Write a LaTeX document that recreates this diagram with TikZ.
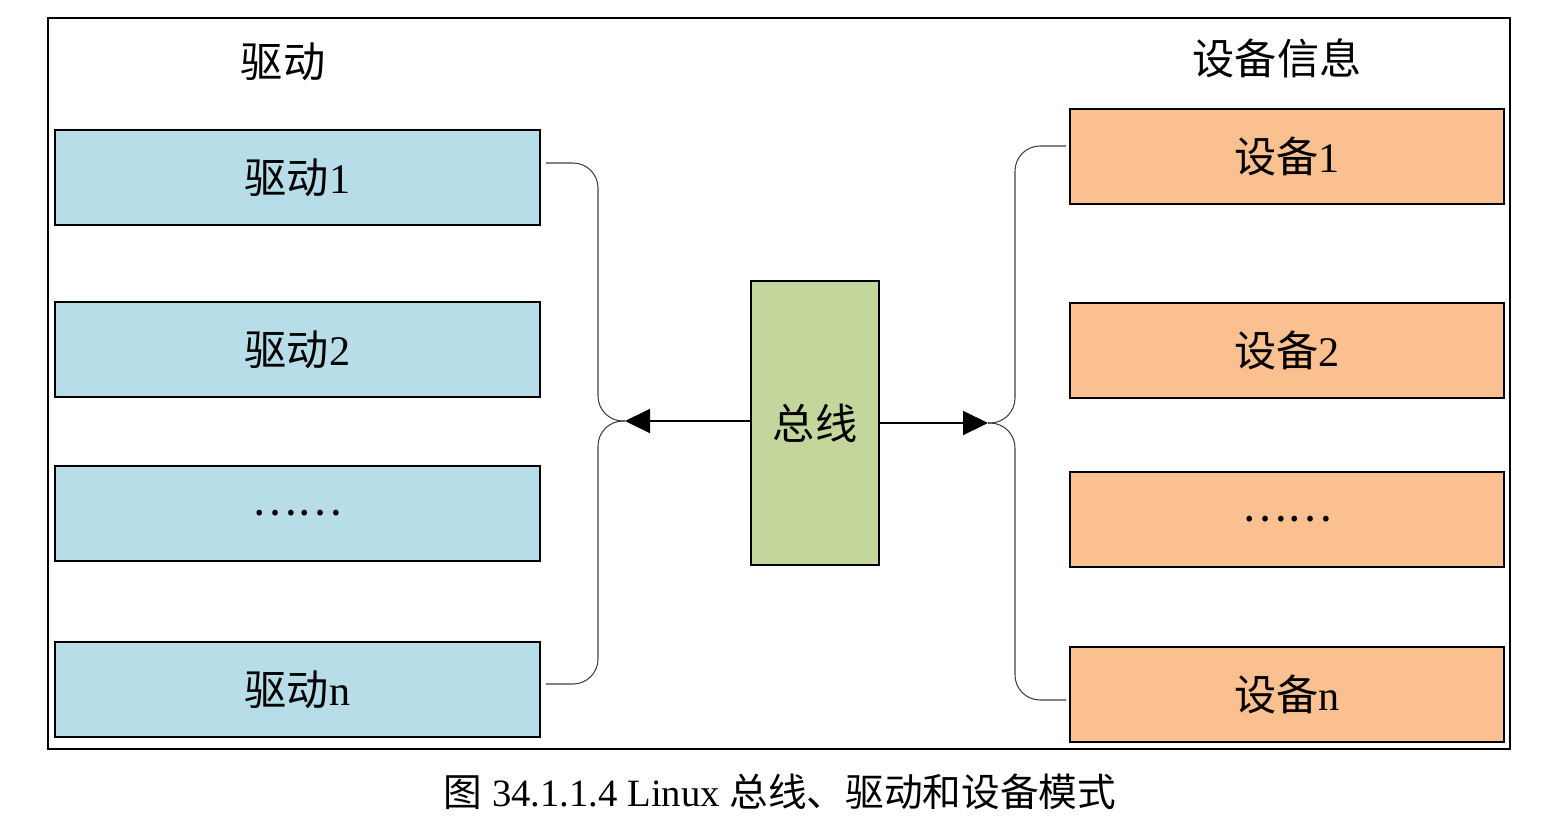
\documentclass[tikz,border=0pt]{standalone}
\usepackage{fontspec}
\setmainfont{Liberation Serif}
\newfontfamily\cjk{Noto Sans CJK SC}
\usetikzlibrary{arrows.meta, positioning, calc}
\definecolor{drvblue}{HTML}{B7DEE8}
\definecolor{devorange}{HTML}{FAC090}
\definecolor{busgreen}{HTML}{C3D69B}

\begin{document}
\begin{tikzpicture}[
    box/.style={draw, line width=1pt, minimum height=1.9cm, inner sep=0, font=\fontsize{24}{28}\selectfont},
    drv/.style={box, fill=drvblue, minimum width=9.7cm},
    dev/.style={box, fill=devorange, minimum width=8.68cm},
    link/.style={draw=black!75, line width=0.6pt, rounded corners=0.5cm},
    title/.style={font=\fontsize{24}{28}\selectfont\cjk},
    >={Triangle[length=0.5cm,width=0.48cm]}
]
\useasboundingbox (0,0) rectangle (31.04,-16.36);
\draw[line width=1pt] (0.96,-0.36) rectangle (30.2,-14.98);

\node[title] (drvhead) at (5.66,-1.24) {驱动};
\node[title] (devhead) at (25.54,-1.16) {设备信息};

% drivers
\node[drv] (d1) at (5.95,-3.55) {{\cjk 驱动}1};
\node[drv] (d2) at (5.95,-6.99) {{\cjk 驱动}2};
\node[drv] (d3) at (5.95,-10.27) {\cjk ……};
\node[drv] (dn) at (5.95,-13.79) {{\cjk 驱动}n};

% devices
\node[dev] (s1) at (25.74,-3.13) {{\cjk 设备}1};
\node[dev] (s2) at (25.74,-7.01) {{\cjk 设备}2};
\node[dev] (s3) at (25.74,-10.39) {\cjk ……};
\node[dev] (sn) at (25.74,-13.89) {{\cjk 设备}n};

% bus
\node[box, fill=busgreen, minimum width=2.56cm, minimum height=5.68cm] (bus) at (16.3,-8.46) {\cjk 总线};

\coordinate (ltip) at (12.5,-8.42);
\coordinate (rtip) at (19.76,-8.46);

% braces
\draw[link] ([xshift=1mm,yshift=2.9mm]d1.east) -| (11.96,-8.42) -- (ltip);
\draw[link] ([xshift=1mm,yshift=1.1mm]dn.east) -| (11.96,-8.42) -- (ltip);
\draw[link] ([xshift=-0.6mm,yshift=2.1mm]s1.west) -| (20.3,-8.46) -- (rtip);
\draw[link] ([xshift=-0.6mm,yshift=-1.1mm]sn.west) -| (20.3,-8.46) -- (rtip);

\draw[->, line width=1.2pt] (bus.west |- ltip) -- (ltip);
\draw[->, line width=1.2pt] (bus.east |- rtip) -- (rtip);

\node[font=\fontsize{22}{26}\selectfont] (caption) at (15.6,-15.84) {{\cjk 图} 34.1.1.4 Linux {\cjk 总线、驱动和设备模式}};
\end{tikzpicture}
\end{document}
